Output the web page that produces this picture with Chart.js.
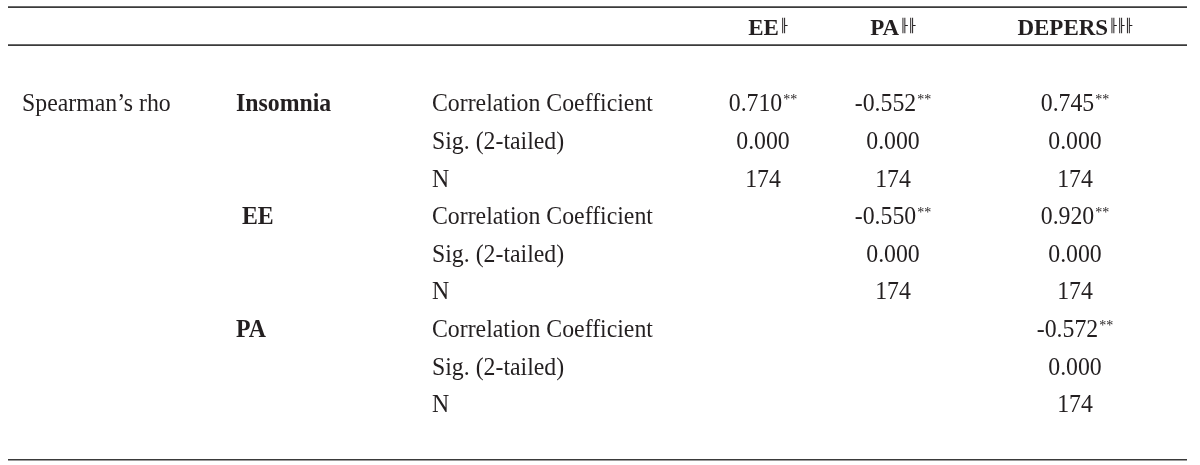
<!DOCTYPE html>
<html><head><meta charset="utf-8">
<script src="https://cdn.jsdelivr.net/npm/chart.js@4/dist/chart.umd.min.js"></script>
<style>html,body{margin:0;padding:0;background:#fff}canvas{display:block}</style>
</head><body><canvas id="c" width="1200" height="465"></canvas>
<script>
// ---- data ----
const columns = ['EE', 'PA', 'DEPERS'];
const columnMarks = ['\u255F', '\u255F\u255F', '\u255F\u255F\u255F'];
const testLabel = 'Spearman\u2019s rho';
const rowVariables = ['Insomnia', ' EE', 'PA'];
const statLabels = ['Correlation Coefficient', 'Sig. (2-tailed)', 'N'];
const coefficients = [[0.710, -0.552, 0.745], [null, -0.550, 0.920], [null, null, -0.572]];
const sigValues = [[0.000, 0.000, 0.000], [null, 0.000, 0.000], [null, null, 0.000]];
const nValues = [[174, 174, 174], [null, 174, 174], [null, null, 174]];
const coefficientMark = '**';

// ---- layout (scale units) ----
const LAYOUT = {
  xTest: 22, xVar: 236, xStat: 432, xCols: [763, 893, 1075], xHead: [768, 893, 1075],
  headerRow: -2, rules: [-2.55, -1.54, 9.49], ruleX: [8, 1187],
  yMin: -2.739, yMax: 9.628
};
const FONT = '"Liberation Serif", "Times New Roman", serif';
const INK = '#231f20';
const STRETCH = 1.07;

const points = [];
columns.forEach((c, i) => points.push({x: LAYOUT.xHead[i], y: LAYOUT.headerRow, text: c, sup: columnMarks[i], kind: 'header'}));
points.push({x: LAYOUT.xTest, y: 0, text: testLabel, kind: 'left'});
rowVariables.forEach((v, g) => {
  points.push({x: LAYOUT.xVar, y: g * 3, text: v, kind: 'leftBold'});
  statLabels.forEach((s, k) => points.push({x: LAYOUT.xStat, y: g * 3 + k, text: s, kind: 'left'}));
  columns.forEach((c, i) => {
    if (coefficients[g][i] !== null) points.push({x: LAYOUT.xCols[i], y: g * 3, text: coefficients[g][i].toFixed(3), sup: coefficientMark, kind: 'num'});
    if (sigValues[g][i] !== null) points.push({x: LAYOUT.xCols[i], y: g * 3 + 1, text: sigValues[g][i].toFixed(3), kind: 'num'});
    if (nValues[g][i] !== null) points.push({x: LAYOUT.xCols[i], y: g * 3 + 2, text: String(nValues[g][i]), kind: 'num'});
  });
});

const tablePlugin = {
  id: 'tableText',
  afterDatasetsDraw(chart) {
    const ctx = chart.ctx;
    const ys = chart.scales.y, xs = chart.scales.x;
    ctx.save();
    ctx.strokeStyle = '#3a3a3a';
    ctx.lineWidth = 1.6;
    LAYOUT.rules.forEach(r => {
      const py = ys.getPixelForValue(r);
      ctx.beginPath();
      ctx.moveTo(xs.getPixelForValue(LAYOUT.ruleX[0]), py);
      ctx.lineTo(xs.getPixelForValue(LAYOUT.ruleX[1]), py);
      ctx.stroke();
    });
    const meta = chart.getDatasetMeta(0);
    ctx.fillStyle = INK;
    ctx.textBaseline = 'alphabetic';
    ctx.textAlign = 'left';
    meta.data.forEach((el, i) => {
      const p = points[i];
      const isHeader = p.kind === 'header';
      const base = el.y + (isHeader ? 7.5 : 8.5);
      const bold = isHeader || p.kind === 'leftBold';
      const mainFont = (bold ? 'bold ' : '') + (isHeader ? '23px ' : '23.8px ') + FONT;
      ctx.font = mainFont;
      const w = ctx.measureText(p.text).width;
      let supFont, sw = 0;
      if (p.sup) {
        supFont = isHeader ? '13px "DejaVu Sans", sans-serif' : '14px ' + FONT;
        ctx.font = supFont;
        sw = ctx.measureText(p.sup).width + 1;
      }
      let x0 = el.x;
      if (p.kind === 'num' || isHeader) x0 = el.x - (w + sw) / 2;
      const sy = isHeader ? 1 : STRETCH;
      ctx.save();
      ctx.translate(0, base);
      ctx.scale(1, sy);
      ctx.font = mainFont;
      ctx.fillText(p.text, x0, 0);
      if (p.sup) {
        ctx.font = supFont;
        ctx.fillText(p.sup, x0 + w + 1, isHeader ? -5 : -7);
      }
      ctx.restore();
    });
    ctx.restore();
  }
};

new Chart(document.getElementById('c'), {
  type: 'scatter',
  data: {datasets: [{data: points, pointRadius: 0, pointHoverRadius: 0, showLine: false}]},
  options: {
    responsive: false, animation: false,
    layout: {padding: 0},
    plugins: {legend: {display: false}, tooltip: {enabled: false}},
    scales: {
      x: {type: 'linear', display: false, min: 0, max: 1200},
      y: {type: 'linear', display: false, reverse: true, min: LAYOUT.yMin, max: LAYOUT.yMax}
    }
  },
  plugins: [tablePlugin]
});
</script></body></html>
